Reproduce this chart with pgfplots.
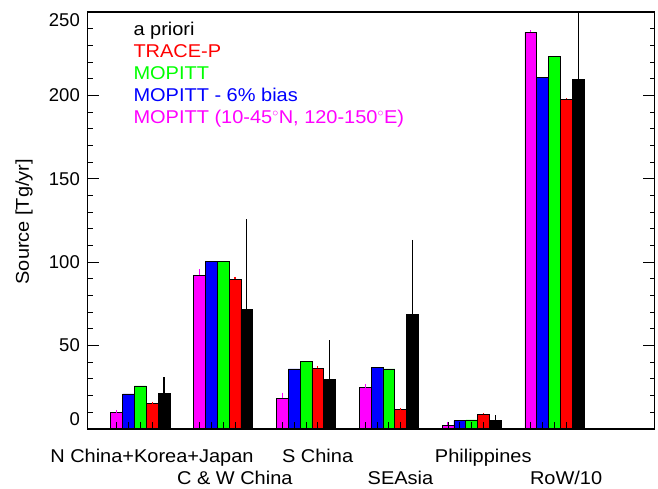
\documentclass[border=0pt]{standalone}
\usepackage{pgfplots}
\pgfplotsset{compat=1.18}
\usepackage{pgfplotstable}
\usepackage{fontspec}
\setmainfont{Liberation Sans}[FakeStretch=1.08]
\newfontfamily\tickfont{Liberation Sans}
\definecolor{mag}{RGB}{255,0,255}
\definecolor{grn}{RGB}{0,255,0}
\definecolor{blu}{RGB}{0,0,255}
\definecolor{rd}{RGB}{255,0,0}
\newcommand{\fs}{\fontsize{18.5bp}{22bp}\selectfont}
\pgfplotstableread{
x   m     me   b      g      r      re   k      ke
1   9.8   1.6  21.0   25.8   15.2   1.2  21.4   9.6
2   92.2  3.6  100.4  100.6  89.8   1.4  71.6   54.2
3   18.4  3.4  36.0   40.4   36.4   1.2  29.8   23.4
4   24.8  2.2  36.8   36.0   11.6   1.0  68.8   44.6
5   2.2   2.0  5.0    5.4    8.8    0.5  5.0    3.2
6   238.0 1.2  211.0  223.4  197.6  0.8  209.6  39.8
}\data
\begin{document}
\begin{tikzpicture}[font=\fs]
\path[use as bounding box] (-87.5bp,-60bp) rectangle (570.5bp,429bp);
\begin{axis}[
  at={(0,0)}, anchor=south west,
  scale only axis, width=567bp, height=417bp,
  xmin=0.362, xmax=7.207, ymin=0, ymax=250,
  clip=false, axis on top,
  axis line style={line width=1.2bp, black},
  tick style={black, line width=1bp},
  tick align=inside,
  major tick length=11.5bp, minor tick length=5bp,
  xtick pos=bottom, ytick pos=both, yticklabel pos=left,
  xtick={0.714286,0.857143,1,1.142857,
         1.714286,1.857143,2,2.142857,
         2.714286,2.857143,3,3.142857,
         3.714286,3.857143,4,4.142857,
         4.714286,4.857143,5,5.142857,
         5.714286,5.857143,6,6.142857},
  xticklabels={},
  xtick style={/pgfplots/major tick length=7bp},
  ytick={0,50,100,150,200,250},
  yticklabels={,50,100,150,200,},
  minor y tick num=4,
  yticklabel style={font=\tickfont\fs, anchor=east, inner sep=0pt, xshift=-7.5bp},
  /pgf/number format/assume math mode=true,
  every axis plot/.append style={ybar, bar width=0.142857, bar shift=0, draw=black, line width=0.8bp},
]
\addplot[fill=mag,
  error bars/.cd, y dir=plus, y explicit, error mark=none,
  error bar style={mag, line width=1.2bp}] table[x expr=\thisrow{x}-0.285714, y=m, y error=me] {\data};
\addplot[fill=blu] table[x expr=\thisrow{x}-0.142857, y=b] {\data};
\addplot[fill=grn] table[x=x, y=g] {\data};
\addplot[fill=rd,
  error bars/.cd, y dir=plus, y explicit, error mark=none,
  error bar style={rd, line width=1.2bp}] table[x expr=\thisrow{x}+0.142857, y=r, y error=re] {\data};
\addplot[fill=black,
  error bars/.cd, y dir=plus, y explicit, error mark=none,
  error bar style={black, line width=1.2bp}] table[x expr=\thisrow{x}+0.285714, y=k, y error=ke] {\data};
\node[anchor=base, yshift=-33.3bp] at (axis cs:1.14,0) {N China+Korea+Japan};
\node[anchor=base, yshift=-55.3bp] at (axis cs:2.14,0) {C \& W China};
\node[anchor=base, yshift=-33.3bp] at (axis cs:3.14,0) {S China};
\node[anchor=base, yshift=-55.3bp] at (axis cs:4.14,0) {SEAsia};
\node[anchor=base, yshift=-33.3bp] at (axis cs:5.14,0) {Philippines};
\node[anchor=base, yshift=-55.3bp] at (axis cs:6.14,0) {RoW/10};
\end{axis}
\node[anchor=east, inner sep=0pt, font=\tickfont\fs] at (-7.5bp,10bp) {0};
\node[anchor=east, inner sep=0pt, font=\tickfont\fs] at (-7.5bp,408.4bp) {250};
\node[rotate=90, inner sep=0pt] at (-63.5bp,207.3bp) {Source [Tg/yr]};
\node[anchor=base west, inner sep=0pt, text=black] at (45.8bp,393bp) {a priori};
\node[anchor=base west, inner sep=0pt, text=rd] at (45.8bp,371.2bp) {TRACE-P};
\node[anchor=base west, inner sep=0pt, text=grn] at (45.8bp,349.4bp) {MOPITT};
\node[anchor=base west, inner sep=0pt, text=blu] at (45.8bp,327.6bp) {MOPITT - 6\% bias};
\node[anchor=base west, inner sep=0pt, text=mag] at (45.8bp,305.8bp) {MOPITT (10-45$^{\circ}$N, 120-150$^{\circ}$E)};
\end{tikzpicture}
\end{document}
